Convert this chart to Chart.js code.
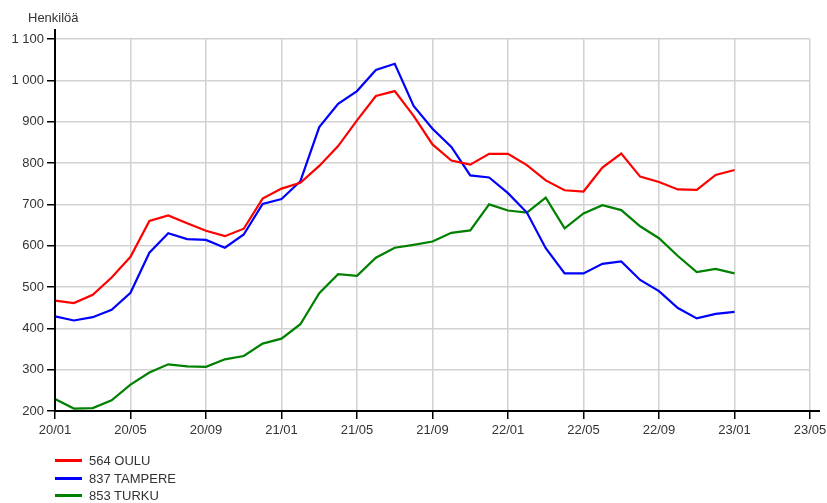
<!DOCTYPE html>
<html><head><meta charset="utf-8">
<script src="https://cdn.jsdelivr.net/npm/chart.js@4"></script>
<style>
html,body{margin:0;padding:0;background:#fff;}
#wrap{position:relative;width:827px;height:503px;}
#legend{position:absolute;left:55px;top:452px;font:13px "Liberation Sans",Arial,sans-serif;color:#333;}
.li{display:flex;align-items:center;height:17.5px;}
.sw{width:27px;height:3px;margin-right:7px;}
</style></head>
<body>
<div id="wrap"><canvas id="c" width="827" height="503"></canvas><div id="legend"></div></div>
<script>
const months = ['20/01','20/02','20/03','20/04','20/05','20/06','20/07','20/08','20/09','20/10','20/11','20/12',
 '21/01','21/02','21/03','21/04','21/05','21/06','21/07','21/08','21/09','21/10','21/11','21/12',
 '22/01','22/02','22/03','22/04','22/05','22/06','22/07','22/08','22/09','22/10','22/11','22/12','23/01'];
const xTickLabels = ['20/01','20/05','20/09','21/01','21/05','21/09','22/01','22/05','22/09','23/01','23/05'];
const seriesNames = ['564 OULU','837 TAMPERE','853 TURKU'];
const seriesColors = ['#ff0000','#0000ff','#008000'];
const oulu = [467,461,481,523,573,660,673,654,636,623,641,714,738,752,793,841,903,962,974,914,845,806,796,822,822,795,758,734,731,789,823,767,754,736,735,771,783];
const tampere = [429,419,427,445,486,583,630,616,614,595,627,701,713,756,887,943,974,1025,1040,938,883,839,770,765,727,680,594,533,533,556,562,517,490,449,424,435,440];
const turku = [229,206,207,226,264,293,313,308,307,325,333,363,375,410,485,531,527,571,595,602,610,631,637,700,685,680,716,642,678,698,686,647,618,575,536,544,533];
const values = [oulu, tampere, turku];

const FONT = '"Liberation Sans", Arial, sans-serif';
const datasets = values.map((v,i)=>({
  label: seriesNames[i],
  data: v.map((y,j)=>({x:j,y:y})),
  borderColor: seriesColors[i],
  backgroundColor: seriesColors[i],
  borderWidth: 2.2,
  pointRadius: 0,
  tension: 0,
  fill: false
}));

const axisPlugin = {
  id:'axes',
  afterDraw(chart){
    const ctx = chart.ctx, a = chart.chartArea;
    ctx.save();
    ctx.strokeStyle = '#000';
    ctx.lineWidth = 2;
    ctx.beginPath();
    ctx.moveTo(a.left, a.top - 10);
    ctx.lineTo(a.left, a.bottom);
    ctx.lineTo(a.right + 10, a.bottom);
    ctx.stroke();
    ctx.fillStyle = '#333';
    ctx.font = '13px ' + FONT;
    ctx.textBaseline = 'alphabetic';
    ctx.fillText('Henkilöä', 28, 22);
    ctx.restore();
  }
};

function fmt(v){ const s = String(v); return s.length > 3 ? s.slice(0, s.length-3) + ' ' + s.slice(-3) : s; }

new Chart(document.getElementById('c'), {
  type: 'line',
  data: { datasets },
  options: {
    responsive: false,
    animation: false,
    layout: { padding: { left: 0, right: 17, top: 39, bottom: 0 } },
    plugins: { legend: { display: false }, tooltip: { enabled: false } },
    scales: {
      x: {
        type: 'linear', min: 0, max: 40,
        afterFit(s){ s.height = 92; s.paddingLeft = 0; s.paddingRight = 0; },
        border: { display: false },
        grid: { color: '#d2d2d2', lineWidth: 1.5, tickColor: '#000', tickLength: 8, tickWidth: 1.5 },
        ticks: { stepSize: 4, autoSkip: false, maxRotation: 0, padding: 4, color: '#333', font: { family: FONT, size: 13 },
          callback: (v) => xTickLabels[Math.round(v/4)] }
      },
      y: {
        min: 200, max: 1100,
        afterFit(s){ s.width = 55; s.paddingTop = 0; s.paddingBottom = 0; },
        border: { display: false },
        grid: { color: '#d2d2d2', lineWidth: 1.5, tickColor: '#000', tickLength: 8, tickWidth: 1.5 },
        ticks: { stepSize: 100, padding: 3, color: '#333', font: { family: FONT, size: 13 }, callback: (v) => fmt(v) }
      }
    }
  },
  plugins: [axisPlugin]
});

const lg = document.getElementById('legend');
seriesNames.forEach((n,i)=>{
  const d = document.createElement('div'); d.className='li';
  d.innerHTML = '<span class="sw" style="background:'+seriesColors[i]+'"></span><span>'+n+'</span>';
  lg.appendChild(d);
});
</script>
</body></html>
